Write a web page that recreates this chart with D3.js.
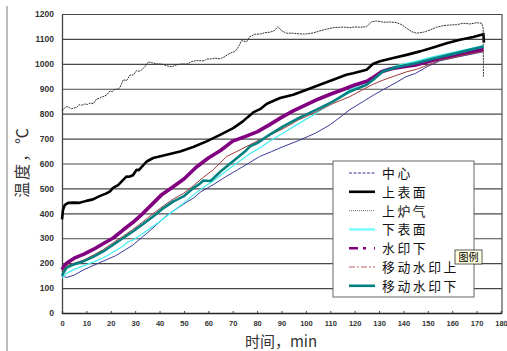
<!DOCTYPE html>
<html>
<head>
<meta charset="utf-8">
<script src="https://cdn.jsdelivr.net/npm/d3@7"></script>
<style>
  body { margin: 0; background: #fff; }
  svg { display: block; }
</style>
</head>
<body>
<script>
// time (min), temperature (°C) pairs
const center = [[0,150],[1,145],[2,143],[5,152],[9,174],[15,200],[22,230],[29,272],[36,330],[43,392],[50,438],[54,462],[57,487],[62,515],[67,546],[72,575],[77,604],[81,628],[86,648],[91,669],[97,692],[104,722],[110,756],[115,793],[118,816],[124,852],[128,876],[132,898],[137,925],[141,948],[145,962],[150,990],[155,1012],[160,1023],[165,1033],[170,1043],[172.5,1048]];

const topSurface = [[0,376],[0.4,413],[1.1,433],[2.5,442],[5,443],[7.2,442],[10,450],[12.7,456],[15.4,469],[18.2,480],[19.7,488],[20.9,502],[23,513],[25,533],[26.5,548],[27.5,547],[29.1,553],[30.6,575],[31.5,573],[34.7,608],[37.4,622],[42.9,635],[48.4,648],[53.8,666],[59.3,689],[64.8,715],[70.2,742],[74.3,770],[76,785],[78.4,805],[81.2,818],[84,840],[89.4,863],[94.8,876],[100.3,896],[105.7,916],[111.2,936],[116.6,956],[119.4,962],[124.9,976],[127.6,1000],[130.4,1010],[135.8,1023],[141.3,1036],[146.8,1050],[152.2,1066],[157.7,1083],[163.2,1097],[168.6,1108],[172,1117],[172.8,1120],[173,1085]];

const furnaceGas = [[0,812],[1,822],[2,829],[3,824],[4,820],[5,823],[6,825],[7,836],[8,834],[9.4,839],[10.5,837],[11.5,843],[12.8,840],[14.2,859],[15.2,861],[16.3,867],[17.3,870],[18.3,875],[19.7,891],[20.7,888],[21.7,899],[22.7,897],[23.8,905],[25.1,936],[26.5,933],[27.9,955],[29.2,955],[30.6,973],[31.6,970],[32.7,976],[34,989],[35.4,1007],[36.8,1005],[38.8,1000],[40.9,999],[42.9,992],[45,988],[47,996],[49.1,1000],[51.1,999],[53.2,1009],[55.2,1013],[57.3,1012],[58.6,1013],[59.3,1020],[60.7,1019],[62.7,1023],[64.8,1020],[66.8,1029],[68.9,1043],[70.9,1049],[72.3,1067],[73.6,1093],[75.7,1089],[77,1109],[79.1,1119],[81.1,1119],[83.2,1125],[85.2,1127],[86.9,1132],[88.6,1149],[90,1133],[92,1123],[94.8,1123],[97.5,1120],[100.2,1120],[103,1124],[105.7,1132],[108.4,1139],[111.1,1145],[113.9,1147],[116.6,1147],[118.1,1145],[120,1148],[122.2,1147],[124.9,1149],[127,1169],[129,1172],[131.8,1167],[134.5,1168],[137.2,1165],[139.3,1157],[141.3,1143],[143.4,1129],[145.4,1123],[148.2,1127],[150.9,1136],[153.6,1147],[156.3,1153],[159.1,1156],[161.8,1157],[164.5,1163],[167.3,1160],[170,1165],[172,1163],[172.7,1143],[172.8,946]];

const bottomSurface = [[0,140],[2,160],[5,175],[9,190],[13,205],[17,222],[21,245],[25,268],[27,285],[29,292],[31,305],[33,318],[37,345],[41.6,378],[45.7,410],[50,442],[54,475],[58,505],[62,530],[66,560],[70,590],[77,639],[81,662],[85,688],[90.7,722],[97,760],[104.4,803],[111,849],[118,896],[125,929],[131.7,976],[138,995],[145,1010],[152,1028],[159,1043],[166,1058],[172.8,1073]];

const markLower = [[0,174],[1,190],[2,201],[5,220],[9,236],[13,256],[17,279],[21,301],[25,333],[29,363],[33,398],[37,437],[41,476],[45,503],[50,538],[55,585],[60,622],[65,652],[70,690],[75,708],[80,727],[85,755],[90,785],[95,812],[100,835],[105,858],[110,878],[115,896],[120,915],[125,930],[128,948],[131,968],[135,980],[140,988],[145,995],[150,1008],[155,1022],[160,1032],[165,1042],[170,1052],[172.8,1057]];

const movingUpper = [[0,165],[2,190],[5,200],[9,213],[13,233],[17,255],[21,282],[25,308],[29,335],[33,365],[37.5,400],[41.6,430],[45.7,458],[49.8,480],[54,512],[58,545],[62,575],[67.5,628],[72,650],[77,675],[81,695],[85,713],[90.7,740],[97,775],[104.4,808],[111,840],[118.1,869],[124,900],[127.6,918],[131.7,935],[141.3,968],[145.4,978],[150,995],[155,1015],[159.1,1022],[165,1036],[172.8,1050]];

const movingLower = [[0,150],[1.8,181],[4.5,194],[8.7,207],[12.8,225],[16.9,247],[21,274],[25.1,301],[29.2,328],[33.4,358],[37.5,388],[41.6,421],[45.7,448],[49.8,468],[53.9,502],[56,515],[58,532],[60.8,530],[62,540],[65,568],[70,608],[75,648],[77.1,669],[80,682],[85,715],[90.7,749],[97,782],[104.4,816],[111.2,849],[118.1,889],[124.9,916],[127.6,936],[131.7,970],[138,988],[145.4,1003],[152,1020],[159.1,1037],[166,1053],[172.8,1070]];

const seriesNames = ["中心", "上表面", "上炉气", "下表面", "水印下", "移动水印上", "移动水印下"];
const seriesData = [center, topSurface, furnaceGas, bottomSurface, markLower, movingUpper, movingLower];
const xTicks = d3.range(0, 181, 10);
const yTicks = d3.range(0, 1201, 100);

const styles = [
  { color: "#3a3a9a", width: 1, dash: null, legendDash: "3,1.5", legendWidth: 1.2 },
  { color: "#000", width: 2.6, dash: null, legendDash: null, legendWidth: 2.6 },
  { color: "#333", width: 1, dash: "2,0.8", legendDash: "1,1", legendWidth: 1.2, legendColor: "#888" },
  { color: "#40f0f0", width: 1.2, dash: null, legendDash: null, legendWidth: 2.6, legendColor: "#80ffff" },
  { color: "#800080", width: 3.6, dash: null, legendDash: "9,5,3,8", legendWidth: 2.6 },
  { color: "#a03a3a", width: 1, dash: null, legendDash: "6,2,2,2", legendWidth: 1.2, legendColor: "#c06060" },
  { color: "#008080", width: 2.6, dash: null, legendDash: null, legendWidth: 2.6 }
];

const width = 507, height = 351;
const plotL = 62, plotR = 501, plotT = 14, plotB = 313;

const svg = d3.select("body").append("svg")
  .attr("width", width)
  .attr("height", height);

// outer frame edge on the left
svg.append("line")
  .attr("x1", 7).attr("x2", 7).attr("y1", 6).attr("y2", height)
  .attr("stroke", "#bdbdbd").attr("stroke-width", 2);

const x = d3.scaleLinear().domain([0, 180]).range([plotL, plotR]);
const y = d3.scaleLinear().domain([0, 1200]).range([plotB, plotT]);

// grid
svg.append("g")
  .attr("transform", `translate(${plotL},0)`)
  .call(d3.axisLeft(y).tickValues(yTicks.slice(1)).tickSize(-(plotR - plotL + 1)).tickFormat(""))
  .call(g => g.select(".domain").remove())
  .call(g => g.selectAll("line").attr("stroke", "#484848").attr("stroke-width", 1.1));

// y axis labels
svg.append("g")
  .attr("transform", `translate(${plotL},0)`)
  .call(d3.axisLeft(y).tickValues(yTicks).tickSize(0).tickPadding(8).tickFormat(d3.format("d")))
  .call(g => g.select(".domain").attr("stroke", "#444").attr("stroke-width", 1.3))
  .call(g => g.selectAll("text")
    .attr("font-family", "Liberation Sans, Arial, sans-serif")
    .attr("font-weight", "bold")
    .attr("font-size", 8.5)
    .attr("fill", "#333"));

// right border
svg.append("line")
  .attr("x1", plotR + 1).attr("x2", plotR + 1).attr("y1", plotT).attr("y2", plotB)
  .attr("stroke", "#505050").attr("stroke-width", 1.2);

// x axis
svg.append("g")
  .attr("transform", `translate(0,${plotB})`)
  .call(d3.axisBottom(x).tickValues(xTicks).tickSize(-2).tickPadding(8))
  .call(g => g.select(".domain").attr("stroke", "#222").attr("stroke-width", 1.4))
  .call(g => g.selectAll("line").attr("stroke", "#444"))
  .call(g => g.selectAll("text")
    .attr("font-family", "Liberation Sans, Arial, sans-serif")
    .attr("font-weight", "bold")
    .attr("font-size", 7.5)
    .attr("fill", "#333"));

const line = d3.line()
  .x(d => x(d[0]))
  .y(d => y(d[1]));

svg.append("g")
  .selectAll("path")
  .data(seriesData)
  .join("path")
  .attr("fill", "none")
  .attr("stroke", (d, i) => styles[i].color)
  .attr("stroke-width", (d, i) => styles[i].width)
  .attr("stroke-dasharray", (d, i) => styles[i].dash)
  .attr("stroke-linejoin", "round")
  .attr("d", line);

// axis titles
svg.append("text")
  .attr("transform", "translate(28,162) rotate(-90)")
  .attr("text-anchor", "middle")
  .attr("font-family", "Noto Sans CJK SC")
  .attr("font-size", 16)
  .attr("letter-spacing", 2)
  .attr("fill", "#333")
  .text("温度，℃");

svg.append("text")
  .attr("x", 281)
  .attr("y", 347)
  .attr("text-anchor", "middle")
  .attr("font-family", "Noto Sans CJK SC")
  .attr("font-size", 15)
  .attr("fill", "#333")
  .text("时间，min");

// legend
const legend = svg.append("g").attr("transform", "translate(333,161)");
legend.append("rect")
  .attr("width", 141).attr("height", 136)
  .attr("fill", "#fff").attr("stroke", "#666").attr("stroke-width", 1);

const item = legend.selectAll("g.item")
  .data(seriesNames)
  .join("g")
  .attr("class", "item")
  .attr("transform", (d, i) => `translate(0,${12 + i * 18.8})`);

item.append("line")
  .attr("x1", 16).attr("x2", 42)
  .attr("stroke", (d, i) => styles[i].legendColor || styles[i].color)
  .attr("stroke-width", (d, i) => styles[i].legendWidth)
  .attr("stroke-dasharray", (d, i) => styles[i].legendDash);

item.append("text")
  .attr("x", 49)
  .attr("y", 5)
  .attr("font-family", "Noto Sans CJK SC")
  .attr("font-size", 12.8)
  .attr("letter-spacing", 2.6)
  .attr("fill", "#111")
  .text(d => d);

// tooltip
const tip = svg.append("g").attr("transform", "translate(455,250)");
tip.append("rect")
  .attr("width", 27).attr("height", 14)
  .attr("fill", "#ffffe1").attr("stroke", "#333").attr("stroke-width", 0.8);
tip.append("text")
  .attr("x", 13.5).attr("y", 11)
  .attr("text-anchor", "middle")
  .attr("font-family", "Noto Sans CJK SC")
  .attr("font-size", 10)
  .attr("fill", "#000")
  .text("图例");
</script>
</body>
</html>
